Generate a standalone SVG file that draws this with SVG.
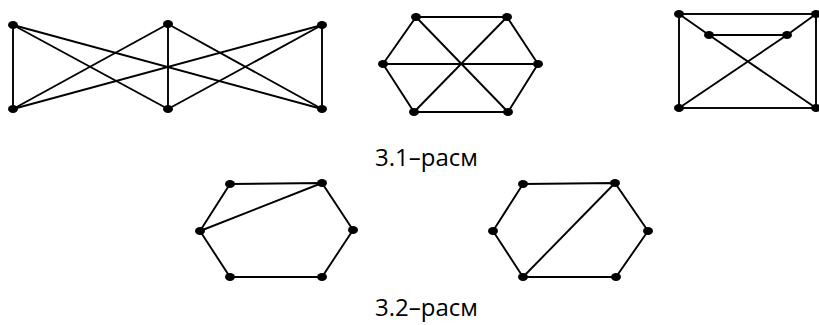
<svg xmlns="http://www.w3.org/2000/svg" width="819" height="325" viewBox="0 0 819 325">
<style>
.e{stroke:#000;stroke-width:1.9;fill:none}
.n{fill:#000}
.t{font-family:"Open Sans","Liberation Sans",sans-serif;font-size:24px;fill:#000}
</style>
<rect width="819" height="325" fill="#fff"/>
<g id="connectors" class="e">
<line x1="13" y1="25" x2="13" y2="109"/>
<line x1="13" y1="25" x2="168" y2="109"/>
<line x1="13" y1="25" x2="322" y2="109"/>
<line x1="168" y1="24" x2="13" y2="109"/>
<line x1="168" y1="24" x2="168" y2="109"/>
<line x1="168" y1="24" x2="322" y2="109"/>
<line x1="322" y1="25" x2="13" y2="109"/>
<line x1="322" y1="25" x2="168" y2="109"/>
<line x1="322" y1="25" x2="322" y2="109"/>
<polygon points="416,17 507,17 538,64 508,112 414,112 383,64"/>
<line x1="383" y1="64" x2="538" y2="64"/>
<line x1="416" y1="17" x2="508" y2="112"/>
<line x1="507" y1="17" x2="414" y2="112"/>
<rect x="679" y="14" width="137" height="94"/>
<line x1="679" y1="14" x2="709" y2="35"/>
<line x1="709" y1="35" x2="816" y2="108"/>
<line x1="816" y1="14" x2="787" y2="35"/>
<line x1="787" y1="35" x2="679" y2="108"/>
<line x1="709" y1="35" x2="787" y2="35"/>
<polygon points="230,184 322,183 353,230 322,277 230,277 200,231"/>
<line x1="200" y1="231" x2="322" y2="183"/>
<polygon points="523,184 615,183 648,231 616,277 523,277 493,231"/>
<line x1="615" y1="183" x2="523" y2="277"/>
</g>
<g id="g1" class="n">
<ellipse cx="13" cy="25" rx="5" ry="4"/><ellipse cx="168" cy="24" rx="5" ry="4"/><ellipse cx="322" cy="25" rx="5" ry="4"/>
<ellipse cx="13" cy="109" rx="5" ry="4"/><ellipse cx="168" cy="109" rx="5" ry="4"/><ellipse cx="322" cy="109" rx="5" ry="4"/>
</g>
<g id="g2" class="n">
<ellipse cx="416" cy="17" rx="5" ry="4"/><ellipse cx="507" cy="17" rx="5" ry="4"/><ellipse cx="538" cy="64" rx="5" ry="4"/>
<ellipse cx="508" cy="112" rx="5" ry="4"/><ellipse cx="414" cy="112" rx="5" ry="4"/><ellipse cx="383" cy="64" rx="5" ry="4"/>
</g>
<g id="g3" class="n">
<ellipse cx="679" cy="14" rx="5" ry="4"/><ellipse cx="816" cy="14" rx="5" ry="4"/><ellipse cx="709" cy="35" rx="5" ry="4"/>
<ellipse cx="787" cy="35" rx="5" ry="4"/><ellipse cx="679" cy="108" rx="5" ry="4"/><ellipse cx="816" cy="108" rx="5" ry="4"/>
</g>
<g id="g4" class="n">
<ellipse cx="230" cy="184" rx="5" ry="4"/><ellipse cx="322" cy="183" rx="5" ry="4"/><ellipse cx="353" cy="230" rx="5" ry="4"/>
<ellipse cx="322" cy="277" rx="5" ry="4"/><ellipse cx="230" cy="277" rx="5" ry="4"/><ellipse cx="200" cy="231" rx="5" ry="4"/>
</g>
<g id="g5" class="n">
<ellipse cx="523" cy="184" rx="5" ry="4"/><ellipse cx="615" cy="183" rx="5" ry="4"/><ellipse cx="648" cy="231" rx="5" ry="4"/>
<ellipse cx="616" cy="277" rx="5" ry="4"/><ellipse cx="523" cy="277" rx="5" ry="4"/><ellipse cx="493" cy="231" rx="5" ry="4"/>
</g>
<g id="label1"><text class="t" x="375" y="166">3.1–расм</text></g>
<g id="label2"><text class="t" x="375" y="316">3.2–расм</text></g>
</svg>
